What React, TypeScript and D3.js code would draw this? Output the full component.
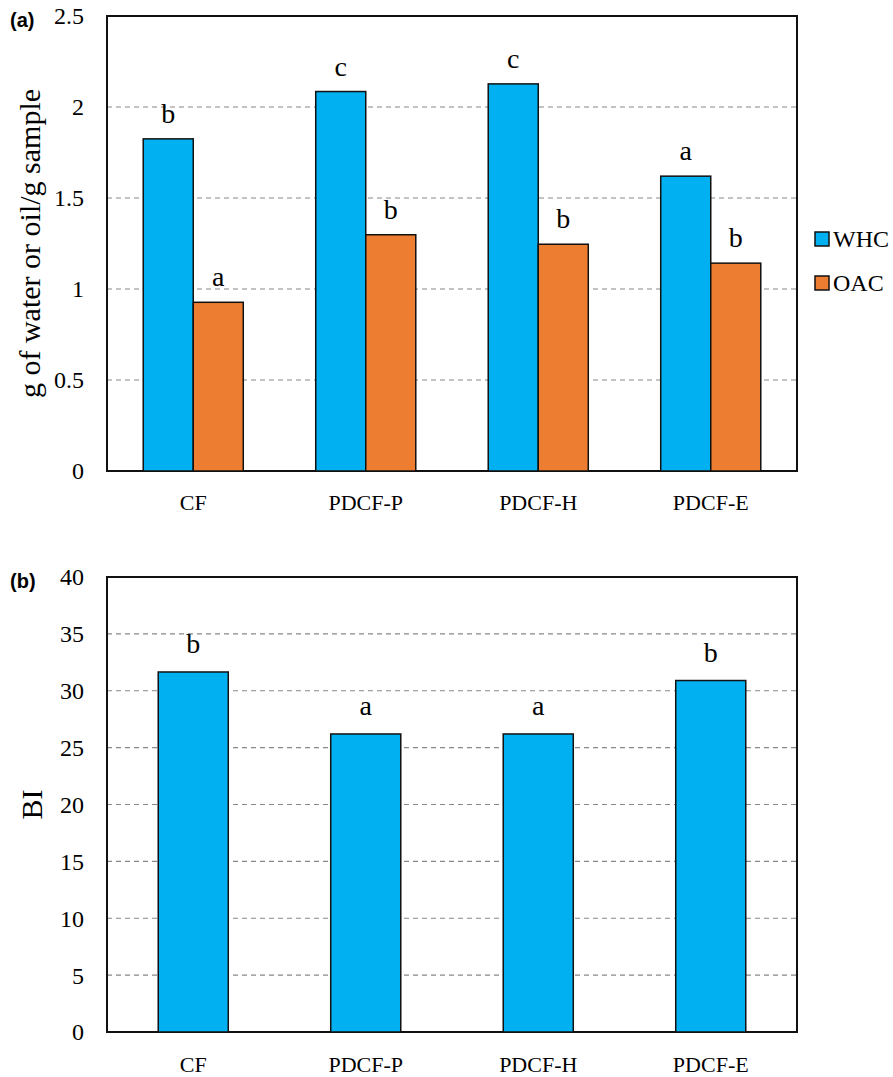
import React, { useEffect, useRef } from "react";
import * as d3 from "d3";

const categories = ["CF", "PDCF-P", "PDCF-H", "PDCF-E"];
const whcValues = [1.825, 2.085, 2.127, 1.62];
const oacValues = [0.927, 1.298, 1.246, 1.142];
const whcLetters = ["b", "c", "c", "a"];
const oacLetters = ["a", "b", "b", "b"];
const biValues = [31.65, 26.2, 26.2, 30.9];
const biLetters = ["b", "a", "a", "b"];
const topTicks = [0, 0.5, 1, 1.5, 2, 2.5];
const bottomTicks = [0, 5, 10, 15, 20, 25, 30, 35, 40];

const WHC_COLOR = "#00B0F0";
const OAC_COLOR = "#ED7D31";
const SERIF = "Liberation Serif, Times New Roman, DejaVu Serif, serif";
const SANS = "Liberation Sans, Arial, sans-serif";

function App() {
  const ref = useRef<SVGSVGElement>(null);

  useEffect(() => {
    const svg = d3.select(ref.current);
    svg.selectAll("*").remove();

    const left = 107;
    const right = 797;

    // ---------- panel (a) ----------
    const topY = d3.scaleLinear().domain([0, 2.5]).range([471, 16]);
    const topX = d3
      .scaleBand()
      .domain(categories)
      .range([left, right])
      .paddingInner(0.42)
      .paddingOuter(0.21);
    const sub = d3
      .scaleBand()
      .domain(["WHC", "OAC"])
      .range([0, topX.bandwidth()]);

    drawFrame(svg, topY, topTicks, left, right);

    const gA = svg.append("g");
    categories.forEach((c, i) => {
      const series = [
        { key: "WHC", v: whcValues[i], l: whcLetters[i], color: WHC_COLOR },
        { key: "OAC", v: oacValues[i], l: oacLetters[i], color: OAC_COLOR },
      ];
      series.forEach((s) => {
        const x = (topX(c) as number) + (sub(s.key) as number);
        gA.append("rect")
          .attr("x", x)
          .attr("y", topY(s.v))
          .attr("width", sub.bandwidth())
          .attr("height", topY(0) - topY(s.v))
          .attr("fill", s.color)
          .attr("stroke", "#111")
          .attr("stroke-width", 1.5);
        gA.append("text")
          .attr("x", x + sub.bandwidth() / 2)
          .attr("y", topY(s.v) - 16)
          .attr("text-anchor", "middle")
          .style("font-family", SERIF)
          .style("font-size", "28px")
          .text(s.l);
      });
      gA.append("text")
        .attr("x", (topX(c) as number) + topX.bandwidth() / 2)
        .attr("y", 510)
        .attr("text-anchor", "middle")
        .style("font-family", SERIF)
        .style("font-size", "22px")
        .text(c);
    });

    svg.append("text")
      .attr("transform", "translate(40," + (topY(0) + topY(2.5)) / 2 + ") rotate(-90)")
      .attr("text-anchor", "middle")
      .style("font-family", SERIF)
      .style("font-size", "30px")
      .text("g of water or oil/g sample");

    svg.append("text")
      .attr("x", 10)
      .attr("y", 27)
      .style("font-family", SANS)
      .style("font-weight", "bold")
      .style("font-size", "20px")
      .text("(a)");

    // legend
    const legend = [
      { key: "WHC", color: WHC_COLOR, y: 239 },
      { key: "OAC", color: OAC_COLOR, y: 283 },
    ];
    legend.forEach((d) => {
      svg.append("rect")
        .attr("x", 815)
        .attr("y", d.y - 7)
        .attr("width", 14)
        .attr("height", 14)
        .attr("fill", d.color)
        .attr("stroke", "#111")
        .attr("stroke-width", 1.5);
      svg.append("text")
        .attr("x", 833)
        .attr("y", d.y + 8)
        .style("font-family", SERIF)
        .style("font-size", "24px")
        .text(d.key);
    });

    // ---------- panel (b) ----------
    const botY = d3.scaleLinear().domain([0, 40]).range([1032, 577]);
    const botX = d3
      .scaleBand()
      .domain(categories)
      .range([left, right])
      .paddingInner(0.594)
      .paddingOuter(0.297);

    drawFrame(svg, botY, bottomTicks, left, right);

    const gB = svg.append("g");
    categories.forEach((c, i) => {
      const x = botX(c) as number;
      gB.append("rect")
        .attr("x", x)
        .attr("y", botY(biValues[i]))
        .attr("width", botX.bandwidth())
        .attr("height", botY(0) - botY(biValues[i]))
        .attr("fill", WHC_COLOR)
        .attr("stroke", "#111")
        .attr("stroke-width", 1.5);
      gB.append("text")
        .attr("x", x + botX.bandwidth() / 2)
        .attr("y", botY(biValues[i]) - 19)
        .attr("text-anchor", "middle")
        .style("font-family", SERIF)
        .style("font-size", "28px")
        .text(biLetters[i]);
      gB.append("text")
        .attr("x", x + botX.bandwidth() / 2)
        .attr("y", 1072)
        .attr("text-anchor", "middle")
        .style("font-family", SERIF)
        .style("font-size", "22px")
        .text(c);
    });

    svg.append("text")
      .attr("transform", "translate(42," + (botY(0) + botY(40)) / 2 + ") rotate(-90)")
      .attr("text-anchor", "middle")
      .style("font-family", SERIF)
      .style("font-size", "30px")
      .text("BI");

    svg.append("text")
      .attr("x", 10)
      .attr("y", 588)
      .style("font-family", SANS)
      .style("font-weight", "bold")
      .style("font-size", "20px")
      .text("(b)");
  }, []);

  function drawFrame(
    svg: any,
    y: d3.ScaleLinear<number, number>,
    ticks: number[],
    left: number,
    right: number
  ) {
    const [lo, hi] = y.domain();
    const g = svg.append("g");
    g.selectAll("line.grid")
      .data(ticks.filter((t) => t !== lo && t !== hi))
      .enter()
      .append("line")
      .attr("x1", left)
      .attr("x2", right)
      .attr("y1", (d: number) => y(d))
      .attr("y2", (d: number) => y(d))
      .attr("stroke", "#888")
      .attr("stroke-width", 1.2)
      .attr("stroke-dasharray", "5,4");
    g.append("rect")
      .attr("x", left)
      .attr("y", y(hi))
      .attr("width", right - left)
      .attr("height", y(lo) - y(hi))
      .attr("fill", "none")
      .attr("stroke", "#111")
      .attr("stroke-width", 2);
    g.selectAll("text.tick")
      .data(ticks)
      .enter()
      .append("text")
      .attr("x", 84)
      .attr("y", (d: number) => y(d))
      .attr("dy", "0.35em")
      .attr("text-anchor", "end")
      .style("font-family", SERIF)
      .style("font-size", "24px")
      .text((d: number) => String(d));
  }

  return (
    <svg
      ref={ref}
      width={893}
      height={1077}
      style={{ position: "absolute", left: 0, top: 0, background: "#fff" }}
    />
  );
}

export default App;
